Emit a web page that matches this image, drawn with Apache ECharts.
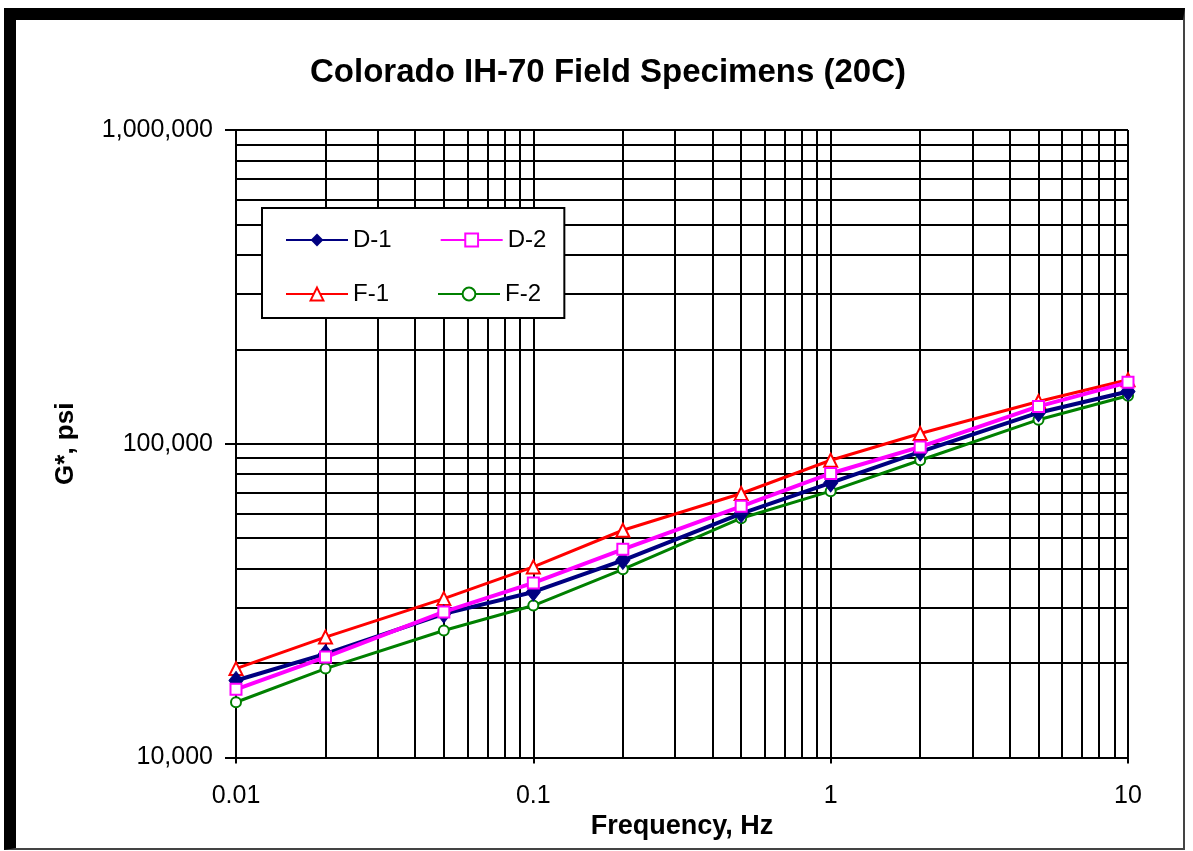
<!DOCTYPE html>
<html>
<head>
<meta charset="utf-8">
<script src="https://cdn.jsdelivr.net/npm/echarts@6/dist/echarts.min.js"></script>
<style>
  html, body { margin: 0; padding: 0; background: #fff; }
  #chart { width: 1193px; height: 851px; }
  #frame {
    position: absolute; left: 4px; top: 8px; width: 1181px; height: 842px;
    box-sizing: border-box; pointer-events: none;
    border-left: 12px solid #000; border-top: 12px solid #000;
    border-right: 2px solid #444; border-bottom: 2px solid #444;
  }
</style>
</head>
<body>
<div id="chart"></div>
<div id="frame"></div>
<script>
// frequency, Hz
const freq = [0.01, 0.02, 0.05, 0.1, 0.2, 0.5, 1, 2, 5, 10];

// G*, psi
const d1 = [17600, 21400, 28700, 33700, 42500, 59900, 75000, 94200, 125600, 146800];
const d2 = [16500, 20900, 29100, 36000, 46100, 63200, 80400, 97700, 131500, 156900];
const f1 = [19200, 24200, 32100, 40500, 53000, 69400, 88600, 107800, 136400, 160000];
const f2 = [15000, 19200, 25400, 30500, 39800, 57900, 70600, 88600, 119300, 142300];

// tick labels
const xTickValues = [0.01, 0.1, 1, 10];
const xTickLabels = ['0.01', '0.1', '1', '10'];
const yTickValues = [10000, 100000, 1000000];
const yTickLabels = ['10,000', '100,000', '1,000,000'];

// minor grid lines (2..9 of each decade)
const xMinor = [0.02, 0.03, 0.04, 0.05, 0.06, 0.07, 0.08, 0.09,
                0.2, 0.3, 0.4, 0.5, 0.6, 0.7, 0.8, 0.9,
                2, 3, 4, 5, 6, 7, 8, 9];
const yMinor = [20000, 30000, 40000, 50000, 60000, 70000, 80000, 90000,
                200000, 300000, 400000, 500000, 600000, 700000, 800000, 900000];

const font = "'Liberation Sans', Arial, sans-serif";

const pick = (vals, labels) => v => {
  let best = 0;
  vals.forEach((t, i) => { if (Math.abs(Math.log10(t) - Math.log10(v)) < Math.abs(Math.log10(vals[best]) - Math.log10(v))) best = i; });
  return labels[best];
};

const pairs = arr => freq.map((f, i) => [f, arr[i]]);

// legend rows: the first one carries the box for both
const legendBase = {
  left: 262,
  orient: 'horizontal',
  itemWidth: 62,
  itemHeight: 16,
  itemGap: 48,
  textStyle: { fontFamily: font, fontSize: 24, color: '#000' }
};

const chart = echarts.init(document.getElementById('chart'));
chart.setOption({
  animation: false,
  backgroundColor: '#fff',
  title: {
    text: 'Colorado IH-70 Field Specimens (20C)',
    left: 603,
    top: 51,
    textAlign: 'center',
    textStyle: { fontFamily: font, fontSize: 33, fontWeight: 'bold', color: '#000' }
  },
  grid: { left: 236, top: 130, right: 65, bottom: 93.5, containLabel: false },
  legend: [
    Object.assign({}, legendBase, {
      data: ['D-1', 'D-2'],
      top: 208,
      padding: [20, 18, 66, 23],
      borderColor: '#000',
      borderWidth: 2,
      backgroundColor: '#fff',
      z: 8
    }),
    Object.assign({}, legendBase, {
      data: ['F-1', 'F-2'],
      top: 263,
      padding: [19, 18, 0, 23],
      z: 9
    })
  ],
  xAxis: {
    type: 'log',
    logBase: 10,
    min: 0.01,
    max: 10,
    name: 'Frequency, Hz',
    nameLocation: 'middle',
    nameGap: 54,
    nameTextStyle: { fontFamily: font, fontSize: 27, fontWeight: 'bold', color: '#000' },
    axisLine: { show: true, lineStyle: { color: '#000', width: 2 } },
    axisTick: { show: true, length: 6, lineStyle: { color: '#000', width: 2 } },
    axisLabel: {
      margin: 26,
      fontFamily: font, fontSize: 25, color: '#000',
      formatter: pick(xTickValues, xTickLabels)
    },
    splitLine: { show: true, lineStyle: { color: '#000', width: 2 } }
  },
  yAxis: {
    type: 'log',
    logBase: 10,
    min: 10000,
    max: 1000000,
    name: 'G*, psi',
    nameLocation: 'middle',
    nameGap: 157,
    nameTextStyle: { fontFamily: font, fontSize: 26, fontWeight: 'bold', color: '#000' },
    axisLine: { show: true, lineStyle: { color: '#000', width: 2 } },
    axisTick: { show: true, length: 11, lineStyle: { color: '#000', width: 2 } },
    axisLabel: {
      margin: 23,
      fontFamily: font, fontSize: 25, color: '#000',
      formatter: pick(yTickValues, yTickLabels)
    },
    splitLine: { show: true, lineStyle: { color: '#000', width: 2 } }
  },
  series: [
    {
      name: 'grid',
      type: 'line',
      data: [],
      z: 1,
      silent: true,
      markLine: {
        z: 1,
        silent: true,
        symbol: ['none', 'none'],
        label: { show: false },
        lineStyle: { color: '#000', width: 2, type: 'solid' },
        emphasis: { disabled: true },
        data: xMinor.map(v => ({ xAxis: v })).concat(yMinor.map(v => ({ yAxis: v })))
      }
    },
    {
      name: 'D-1', type: 'line', z: 4, data: pairs(d1),
      symbol: 'diamond', symbolSize: [14, 18],
      lineStyle: { color: '#000080', width: 4 },
      itemStyle: { color: '#000080', borderColor: '#000080' }
    },
    {
      name: 'D-2', type: 'line', z: 5, data: pairs(d2),
      symbol: 'emptyRect', symbolSize: 11,
      lineStyle: { color: '#ff00ff', width: 4 },
      itemStyle: { color: '#ff00ff', borderColor: '#ff00ff', borderWidth: 2 }
    },
    {
      name: 'F-1', type: 'line', z: 3, data: pairs(f1),
      symbol: 'emptyTriangle', symbolSize: 13,
      lineStyle: { color: '#ff0000', width: 3 },
      itemStyle: { color: '#ff0000', borderColor: '#ff0000', borderWidth: 2 }
    },
    {
      name: 'F-2', type: 'line', z: 3, data: pairs(f2),
      symbol: 'emptyCircle', symbolSize: 10,
      lineStyle: { color: '#008000', width: 3 },
      itemStyle: { color: '#008000', borderColor: '#008000', borderWidth: 2 }
    }
  ]
});
</script>
</body>
</html>
